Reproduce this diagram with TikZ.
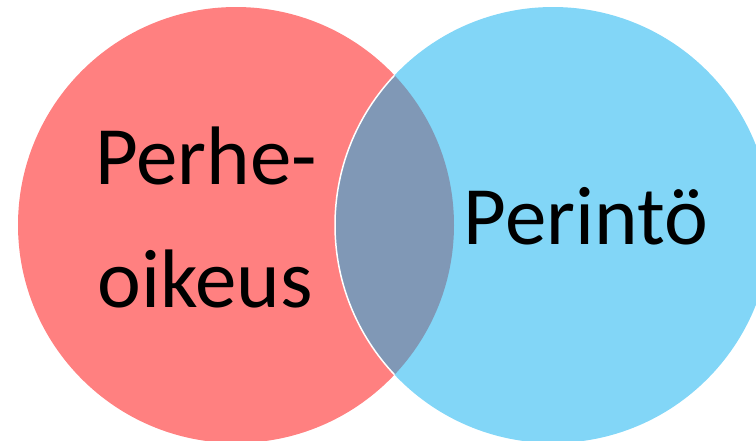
\documentclass[tikz,border=0pt]{standalone}
\usepackage{fontspec}
\setmainfont{Carlito}
\definecolor{perhered}{RGB}{255,128,128}
\definecolor{perintoblue}{RGB}{130,214,247}
\definecolor{lensgray}{RGB}{128,152,182}
\tikzset{
  label text/.style={font=\fontsize{83}{83}\selectfont, inner sep=0pt, text=black}
}
\begin{document}
\begin{tikzpicture}[x=1pt,y=-1pt]
    \useasboundingbox (0,0) rectangle (756,440);
    % circles
    \fill[perhered] (236,225) circle (218);
    \fill[perintoblue] (553,225) circle (218);
    \begin{scope}
      \clip (236,225) circle (218);
      \filldraw[fill=lensgray,draw=white,line width=1.5pt] (553,225) circle (218);
    \end{scope}
    % labels
    \node[label text,anchor=base] (perhe) at (206,184) {Perhe-};
    \node[label text,anchor=base] (oikeus) at (205,307) {oikeus};
    \node[label text,anchor=base] (perinto) at (586,244) {Perintö};
\end{tikzpicture}
\end{document}
